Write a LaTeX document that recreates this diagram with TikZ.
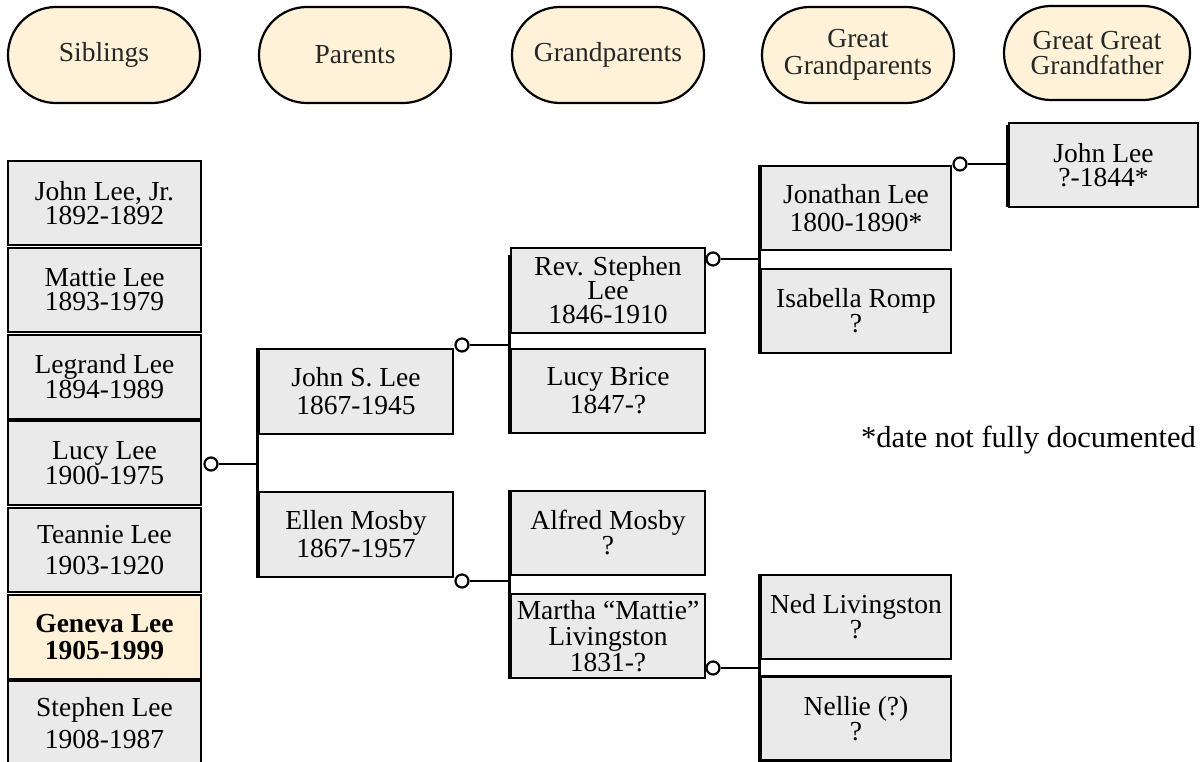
\documentclass[tikz,border=0pt]{standalone}
\usepackage{fontspec}
\setmainfont{Liberation Serif}
\definecolor{cream}{HTML}{FFF2D9}
\definecolor{boxgray}{HTML}{EAEAEA}
\begin{document}
\begin{tikzpicture}[x=1pt,y=-1pt,
  txtlead/.style={font=\fontsize{27.5}{#1}\selectfont},
  person/.style={draw=black, line width=2.4pt, fill=boxgray, rectangle,
    inner sep=0pt, align=center, text=black},
  sib/.style={person, minimum width=193pt, minimum height=84pt},
  par/.style={person, minimum width=194pt, minimum height=85pt},
  gpa/.style={person, minimum width=194pt, minimum height=84pt},
  ggpa/.style={person, minimum width=190pt, minimum height=84pt},
  header/.style={draw=black, line width=2.2pt, fill=cream, rectangle,
    rounded corners=47.9pt, minimum width=192pt, minimum height=96pt,
    inner sep=0pt, align=center, text=black!85},
  bar/.style={draw=black, line width=3.2pt},
  conn/.style={draw=black, line width=2.2pt},
  knot/.style={circle, draw=black, line width=2.2pt, fill=white,
    minimum size=13pt, inner sep=0pt}
]
\useasboundingbox[fill=white] (0,0) rectangle (1200,762);

% generation headers
\node[header, txtlead=30] (hsib) at (104,55) {Siblings};
\node[header, txtlead=30] (hpar) at (355,55) {Parents};
\node[header, txtlead=30] (hgp) at (608,55) {Grandparents};
\node[header, txtlead=27] (hggp) at (858,55) {Great\\Grandparents};
\node[header, txtlead=25, minimum width=186pt, minimum height=94pt,
  rounded corners=46.9pt] (hgggp) at (1097,53) {Great Great\\Grandfather};

% siblings
\node[sib, txtlead=24] (jr) at (104.5,203) {John Lee, Jr.\\1892-1892};
\node[sib, txtlead=24] (mattie) at (104.5,290) {Mattie Lee\\1893-1979};
\node[sib, txtlead=25] (legrand) at (104.5,377) {Legrand Lee\\1894-1989};
\node[sib, txtlead=24] (lucy) at (104.5,463) {Lucy Lee\\1900-1975};
\node[sib, txtlead=31] (teannie) at (104.5,550) {Teannie Lee\\1903-1920};
\node[sib, fill=cream, font=\fontsize{27.5}{27}\selectfont\bfseries] (geneva)
  at (104.5,637) {Geneva Lee\\1905-1999};
\node[sib, txtlead=32] (stephen) at (104.5,723) {Stephen Lee\\1908-1987};

% parents
\node[par, txtlead=28] (johns) at (356,391.5) {John S. Lee\\1867-1945};
\node[par, txtlead=28] (ellen) at (356,534.5) {Ellen Mosby\\1867-1957};

% grandparents
\node[gpa, minimum height=85pt, txtlead=24] (rev) at (608,290.5)
  {Rev. Stephen\\Lee\\1846-1910};
\node[gpa, txtlead=28] (lucyb) at (608,391) {Lucy Brice\\1847-?};
\node[gpa, txtlead=25] (alfred) at (608,533) {Alfred Mosby\\?};
\node[gpa, txtlead=26] (martha) at (608,636) {Martha “Mattie”\\Livingston\\1831-?};

% great grandparents
\node[ggpa, txtlead=28] (jonathan) at (856,208) {Jonathan Lee\\1800-1890*};
\node[ggpa, txtlead=25] (isabella) at (856,311) {Isabella Romp\\?};
\node[ggpa, txtlead=24] (ned) at (856,617) {Ned Livingston\\?};
\node[ggpa, txtlead=24] (nellie) at (856,718.5) {Nellie (?)\\?};

% great great grandfather
\node[person, minimum width=189pt, minimum height=84pt, txtlead=24] (johnlee)
  at (1103.5,165) {John Lee\\?-1844*};

% couple bars
\draw[bar] (johns.north west) -- (ellen.south west);
\draw[bar] ([yshift=-8pt]rev.north west) -- (lucyb.south west);
\draw[bar] (alfred.north west) -- (martha.south west);
\draw[bar] (jonathan.north west) -- (isabella.south west);
\draw[bar] (ned.north west) -- (nellie.south west);
\draw[bar] ([yshift=-3pt]johnlee.north west) -- ([yshift=1pt]johnlee.south west);

% descent links
\node[knot] (k1) at (211,464) {};
\node[knot] (k2) at (462,345) {};
\node[knot] (k3) at (462,581) {};
\node[knot] (k4) at (713,259) {};
\node[knot] (k5) at (960,164) {};
\node[knot] (k6) at (713,668) {};
\draw[conn] (k1) -- (k1 -| johns.west);
\draw[conn] (k2) -- (k2 -| rev.west);
\draw[conn] (k3) -- (k3 -| alfred.west);
\draw[conn] (k4) -- (k4 -| jonathan.west);
\draw[conn] (k5) -- (k5 -| johnlee.west);
\draw[conn] (k6) -- (k6 -| ned.west);

% footnote
\node[anchor=east, inner sep=0pt, text=black, font=\fontsize{30.5}{31}\selectfont]
  (note) at (1196,440) {*date not fully documented};
\end{tikzpicture}
\end{document}
